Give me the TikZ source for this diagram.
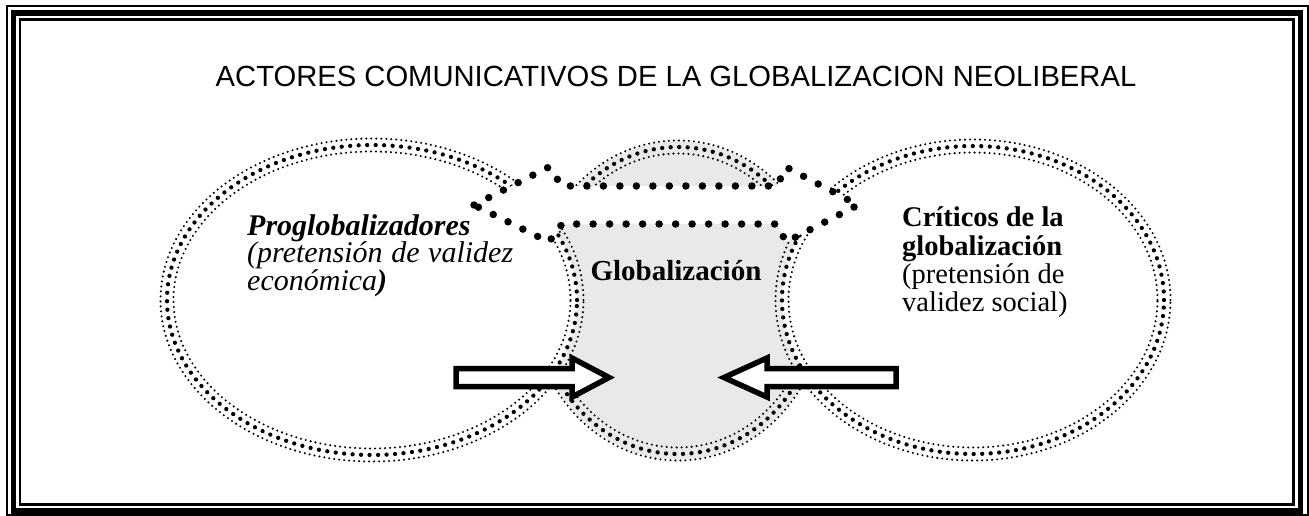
\documentclass[tikz,border=0pt]{standalone}
\usepackage{fontspec}
\setmainfont{Liberation Serif}
\newfontfamily\titlefont{Liberation Sans}
\definecolor{globgray}{HTML}{E9E9E9}
\newcommand\dotring[3]{%
  \draw[ringsmall] #1 ellipse [x radius=#2pt+6.5pt, y radius=#3pt+6.5pt];
  \draw[ringbig]   #1 ellipse [x radius=#2pt, y radius=#3pt];
  \draw[ringsmall] #1 ellipse [x radius=#2pt-6.5pt, y radius=#3pt-6.5pt];}
\begin{document}
\begin{tikzpicture}[x=1pt,y=-1pt,
  ringsmall/.style={line width=2.3pt, line cap=round, dash pattern=on 0pt off 5pt},
  ringbig/.style={line width=4.3pt, line cap=round, dash pattern=on 0pt off 8.5pt},
  hugedots/.style={line width=7.5pt, line cap=round, dash pattern=on 0pt off 16.5pt},
  blockarrow/.style={draw=black, fill=white, line width=5.5pt, line join=miter},
  txt/.style={inner sep=0pt, font=\fontsize{28.5}{28.5}\selectfont},
  lefttxt/.style={inner sep=0pt, font=\fontsize{30}{30}\selectfont},
  titletxt/.style={inner sep=0pt, font=\titlefont\fontsize{29.2}{30}\selectfont}]
\useasboundingbox (0,0) rectangle (1309,516);
\fill[white] (0,0) rectangle (1309,516);
% frame
\draw[line width=2pt] (7,6) rectangle (1307.5,515);
\draw[line width=5.7pt] (13.5,13) rectangle (1300.5,511);
\draw[line width=2.6pt] (20,19.5) rectangle (1293.3,504.3);
% middle ellipse (underneath)
\fill[globgray] (678,300.5) ellipse [x radius=146pt, y radius=159pt];
\dotring{(678,300.5)}{140}{153.5}
% side ellipses (on top, white)
\fill[white] (372,300) ellipse [x radius=205pt, y radius=155pt];
\dotring{(372,300)}{205}{155}
\fill[white] (973,300) ellipse [x radius=191pt, y radius=154pt];
\dotring{(973,300)}{191}{154}
% double arrow
\path[fill=white] (474,205) -- (549,167) -- (562,186) -- (777,186) -- (786,167) -- (858,205)
  -- (786,242) -- (777,224) -- (562,224) -- (549,242) -- cycle;
\draw[hugedots] (474,205) -- (549,167) -- (562,186) -- (777,186) -- (786,167) -- (858,205)
  -- (786,242) -- (777,224) -- (562,224) -- (549,242) -- cycle;
% block arrows
\draw[blockarrow] (456,368.5) -- (572,368.5) -- (572,358) -- (609,377.5) -- (572,397)
  -- (572,386.5) -- (456,386.5) -- cycle;
\draw[blockarrow] (896,368.5) -- (767,368.5) -- (767,358) -- (724,377.5) -- (767,397)
  -- (767,386.5) -- (896,386.5) -- cycle;
% texts
\node[titletxt, anchor=base] (title) at (676,87) {ACTORES COMUNICATIVOS DE LA GLOBALIZACION NEOLIBERAL};
\node[lefttxt, anchor=base west] (pro1) at (247,235) {\bfseries\itshape Proglobalizadores};
\node[lefttxt, anchor=base west] (pro2) at (247,262.7) {\itshape\hbox to 266pt{(pretensión\hfill de\hfill validez}};
\node[lefttxt, anchor=base west] (pro3) at (247,290) {\itshape económica\textbf{)}};
\node[txt, font=\fontsize{29}{29}\selectfont, anchor=base] (glob) at (676,280) {\bfseries Globalización};
\node[txt, anchor=base west] (cri1) at (902,226.7) {\bfseries Críticos de la};
\node[txt, anchor=base west] (cri2) at (902,255) {\bfseries globalización};
\node[txt, anchor=base west] (cri3) at (902,283.3) {(pretensión de};
\node[txt, anchor=base west] (cri4) at (902,311.7) {validez social)};
\end{tikzpicture}
\end{document}
